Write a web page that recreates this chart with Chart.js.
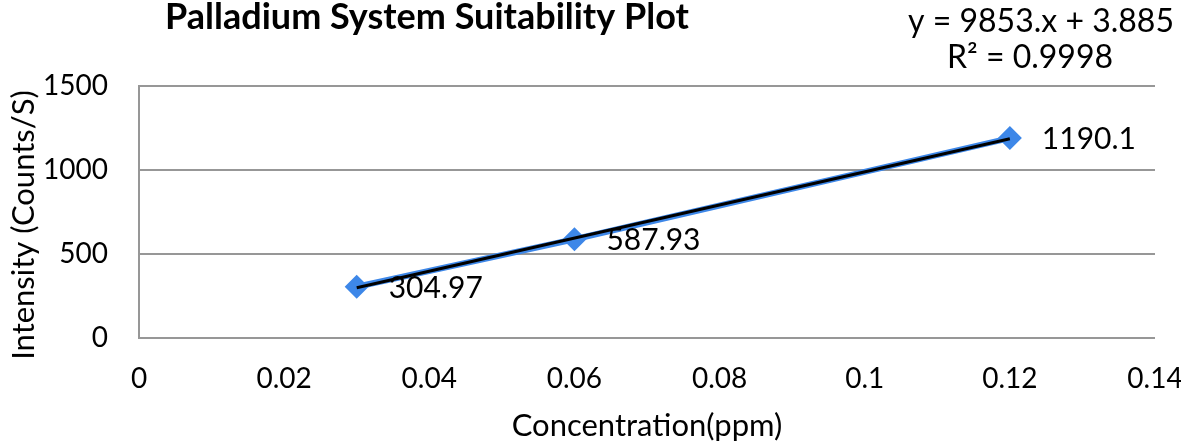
<!DOCTYPE html>
<html>
<head>
<meta charset="utf-8">
<script src="https://cdn.jsdelivr.net/npm/chart.js@4"></script>
<style>
  html, body { margin: 0; padding: 0; background: #fff; }
  #wrap { width: 1181px; height: 445px; }
</style>
</head>
<body>
<div id="wrap"><canvas id="plot" width="1181" height="445"></canvas></div>
<script>
const concentrations = [0.03, 0.06, 0.12];
const intensities = [304.97, 587.93, 1190.1];
const pointLabels = ['304.97', '587.93', '1190.1'];
// trendline ends, read from y = 9853.x + 3.885
const trendX = [0.03, 0.12];
const trendY = [299.5, 1186.2];
const xTicks = [0, 0.02, 0.04, 0.06, 0.08, 0.1, 0.12, 0.14];
const yTicks = [0, 500, 1000, 1500];
const titleText = 'Palladium System Suitability Plot';
const equationText = ['y = 9853.x + 3.885', 'R² = 0.9998'];
const yTitle = 'Intensity (Counts/S)';

const FONT = 'Lato, "Open Sans", sans-serif';
const BLUE = '#3d87e8';
const GRID = '#979797';

const textPlugin = {
  id: 'texts',
  afterDatasetsDraw(chart) {
    const ctx = chart.ctx;
    const xs = chart.scales.x, ys = chart.scales.y;
    ctx.save();
    ctx.fillStyle = '#000';
    ctx.textBaseline = 'middle';

    // point labels, placed beside each point
    ctx.font = '30px ' + FONT;
    ctx.textAlign = 'left';
    concentrations.forEach((c, i) => {
      const px = xs.getPixelForValue(c);
      const py = ys.getPixelForValue(intensities[i]);
      ctx.fillText(pointLabels[i], px + 32, py + (i === 0 ? 2 : 1));
    });

    // title
    ctx.font = 'bold 36px ' + FONT;
    ctx.textAlign = 'center';
    ctx.fillText(titleText, 427, 17);

    // equation box
    ctx.font = '32px ' + FONT;
    ctx.fillText(equationText[0], 1041, 22);
    ctx.fillText(equationText[1], 1030, 58);

    // y axis title
    ctx.font = '31px ' + FONT;
    ctx.translate(24, 225);
    ctx.rotate(-Math.PI / 2);
    ctx.fillText(yTitle, 0, 0);
    ctx.restore();
  }
};

new Chart(document.getElementById('plot'), {
  type: 'scatter',
  data: {
    datasets: [
      {
        label: 'Trend',
        data: trendX.map((x, i) => ({ x: x, y: trendY[i] })),
        showLine: true,
        borderColor: '#000',
        borderWidth: 3,
        pointRadius: 0,
        order: 0
      },
      {
        label: 'Intensity',
        data: concentrations.map((x, i) => ({ x: x, y: intensities[i] })),
        showLine: true,
        borderColor: BLUE,
        borderWidth: 6,
        backgroundColor: BLUE,
        pointStyle: 'rectRot',
        pointRadius: 12,
        pointBorderWidth: 0,
        order: 1
      }
    ]
  },
  options: {
    responsive: false,
    animation: false,
    events: [],
    layout: { padding: { top: 86, right: 26, left: 0, bottom: 0 } },
    plugins: {
      legend: { display: false },
      tooltip: { enabled: false }
    },
    scales: {
      x: {
        type: 'linear',
        min: 0,
        max: 0.14,
        afterFit: s => { s.height = 107; s.paddingLeft = 0; s.paddingRight = 0; },
        afterBuildTicks: s => { s.ticks = xTicks.map(v => ({ value: v })); },
        grid: { display: false, drawTicks: false },
        border: { display: false },
        ticks: {
          padding: 24,
          color: '#000',
          font: { family: FONT, size: 28 },
          callback: v => String(Number(v.toFixed(2)))
        },
        title: {
          display: true,
          text: 'Concentration(ppm)',
          color: '#000',
          font: { family: FONT, size: 31 },
          padding: { top: 0, bottom: 0 }
        }
      },
      y: {
        min: 0,
        max: 1500,
        afterFit: s => { s.width = 139; s.paddingTop = 0; s.paddingBottom = 0; },
        afterBuildTicks: s => { s.ticks = yTicks.map(v => ({ value: v })); },
        grid: { color: GRID, lineWidth: 2, drawTicks: false },
        border: { display: true, color: GRID, width: 2 },
        ticks: {
          padding: 31,
          color: '#000',
          font: { family: FONT, size: 28 },
          callback: v => String(v)
        }
      }
    }
  },
  plugins: [textPlugin]
});
</script>
</body>
</html>
